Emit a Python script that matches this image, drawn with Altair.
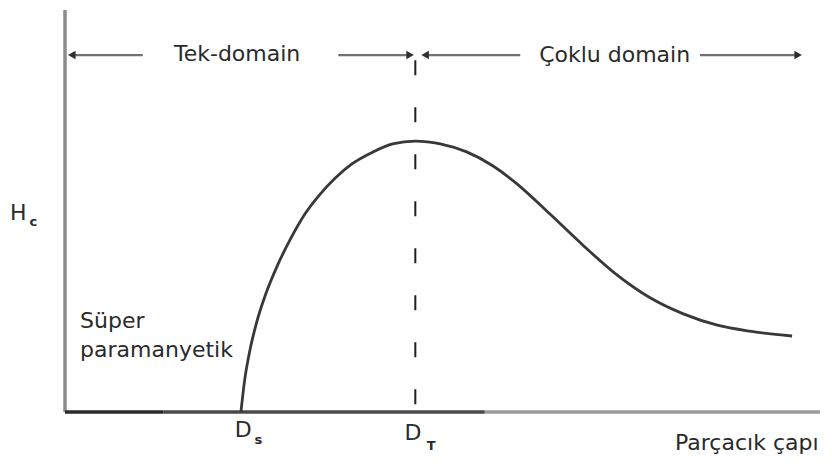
import altair as alt
import pandas as pd

# Coercivity Hc versus particle diameter (arbitrary units, axes run 0..100)
diam = [23.3, 23.8, 24.5, 25.4, 26.6, 28.1, 29.8, 31.8, 33.8, 35.8, 38.0, 40.8,
        43.4, 46.4, 49.7, 53.2, 56.7, 59.9, 64.2, 68.6, 73.1, 77.5, 81.9, 86.4,
        90.7, 96.3]
hc = [0.0, 8.0, 15.4, 22.4, 29.4, 36.3, 42.8, 49.3, 54.2, 58.2, 61.7, 64.7,
      66.7, 67.4, 66.7, 64.7, 61.2, 56.7, 49.3, 41.5, 34.1, 28.4, 24.4, 21.6,
      20.1, 18.9]

D_S = 23.3          # superparamagnetic limit
D_T = 46.4          # single / multi domain threshold
ARROW_Y = 88.8      # height of the domain arrows
DASH_TOP = 87.5

# axis segments: x from, x to, colour (scanned line fades to the right)
xaxis_from = [0.0, 13.0, 55.6]
xaxis_to = [13.0, 55.6, 100.0]
xaxis_col = ["#2b2b2b", "#4a4a4a", "#9a9a9a"]

# domain arrows: tail, head
arrow_tail = [10.3, 36.2, 60.3, 84.1]
arrow_head = [0.9, 45.7, 47.7, 97.1]

# labels
c_text = ["Tek-domain", "Çoklu domain", "H", "D", "D"]
c_x = [22.8, 72.8, -6.2, 23.6, 46.1]
c_y = [87.3, 87.1, 47.8, -6.2, -7.0]
sub_text = ["c", "s", "T"]
sub_x = [-4.2, 25.6, 48.5]
sub_y = [46.3, -8.0, -9.5]
l_text = ["Süper", "paramanyetik", "Parçacık çapı"]
l_x = [2.0, 2.0, 80.8]
l_y = [20.9, 13.7, -9.45]

X_DOM = [-8.61, 101.59]
Y_DOM = [-14.43, 102.49]
xs = alt.Scale(domain=X_DOM, nice=False, zero=False)
ys = alt.Scale(domain=Y_DOM, nice=False, zero=False)
FONT = "DejaVu Sans"
INK = "#2a2a2a"

curve_df = pd.DataFrame({"d": diam, "hc": hc})
curve = alt.Chart(curve_df).mark_line(
    color="#383838", strokeWidth=2.8, interpolate="monotone"
).encode(
    x=alt.X("d:Q", scale=xs, axis=None),
    y=alt.Y("hc:Q", scale=ys, axis=None),
)

yaxis = alt.Chart(pd.DataFrame({"x": [0.0], "y0": [0.0], "y1": [100.0]})).mark_rule(
    color="#8c8c8c", strokeWidth=3.5
).encode(
    x=alt.X("x:Q", scale=xs, axis=None),
    y=alt.Y("y0:Q", scale=ys, axis=None),
    y2="y1:Q",
)

xaxis = alt.Chart(pd.DataFrame({"a": xaxis_from, "b": xaxis_to, "c": xaxis_col, "y": [0.0] * 3})).mark_rule(
    strokeWidth=3.5
).encode(
    x=alt.X("a:Q", scale=xs, axis=None),
    x2="b:Q",
    y=alt.Y("y:Q", scale=ys, axis=None),
    color=alt.Color("c:N", scale=None),
)

dashed = alt.Chart(pd.DataFrame({"x": [D_T], "y0": [0.0], "y1": [DASH_TOP]})).mark_rule(
    color="#1e1e1e", strokeWidth=2, strokeDash=[15, 32]
).encode(
    x=alt.X("x:Q", scale=xs, axis=None),
    y=alt.Y("y1:Q", scale=ys, axis=None),
    y2="y0:Q",
)

arrow_df = pd.DataFrame({
    "t": arrow_tail, "h": arrow_head, "y": [ARROW_Y] * 4,
    "shape": ["triangle-left", "triangle-right", "triangle-left", "triangle-right"],
})
shafts = alt.Chart(arrow_df).mark_rule(color="#707070", strokeWidth=2.2).encode(
    x=alt.X("t:Q", scale=xs, axis=None),
    x2="h:Q",
    y=alt.Y("y:Q", scale=ys, axis=None),
)
heads = alt.Chart(arrow_df).mark_point(filled=True, size=75, color="#2e2e2e", opacity=1).encode(
    x=alt.X("h:Q", scale=xs, axis=None),
    y=alt.Y("y:Q", scale=ys, axis=None),
    shape=alt.Shape("shape:N", scale=None),
)

centered = alt.Chart(pd.DataFrame({"x": c_x, "y": c_y, "t": c_text})).mark_text(
    font=FONT, fontSize=22, color=INK, align="center", baseline="alphabetic"
).encode(
    x=alt.X("x:Q", scale=xs, axis=None),
    y=alt.Y("y:Q", scale=ys, axis=None),
    text="t:N",
)
subs = alt.Chart(pd.DataFrame({"x": sub_x, "y": sub_y, "t": sub_text})).mark_text(
    font=FONT, fontSize=13, fontWeight="bold", color=INK, align="center", baseline="alphabetic"
).encode(
    x=alt.X("x:Q", scale=xs, axis=None),
    y=alt.Y("y:Q", scale=ys, axis=None),
    text="t:N",
)
lefts = alt.Chart(pd.DataFrame({"x": l_x, "y": l_y, "t": l_text})).mark_text(
    font=FONT, fontSize=22, color=INK, align="left", baseline="alphabetic"
).encode(
    x=alt.X("x:Q", scale=xs, axis=None),
    y=alt.Y("y:Q", scale=ys, axis=None),
    text="t:N",
)

chart = alt.layer(
    yaxis, xaxis, dashed, curve, shafts, heads, centered, subs, lefts
).properties(
    width=832, height=470, background="white",
    padding=0, autosize=alt.AutoSizeParams(type="none"),
).configure_view(stroke=None)

chart.save("out.html", embed_options={"renderer": "svg", "actions": False})
